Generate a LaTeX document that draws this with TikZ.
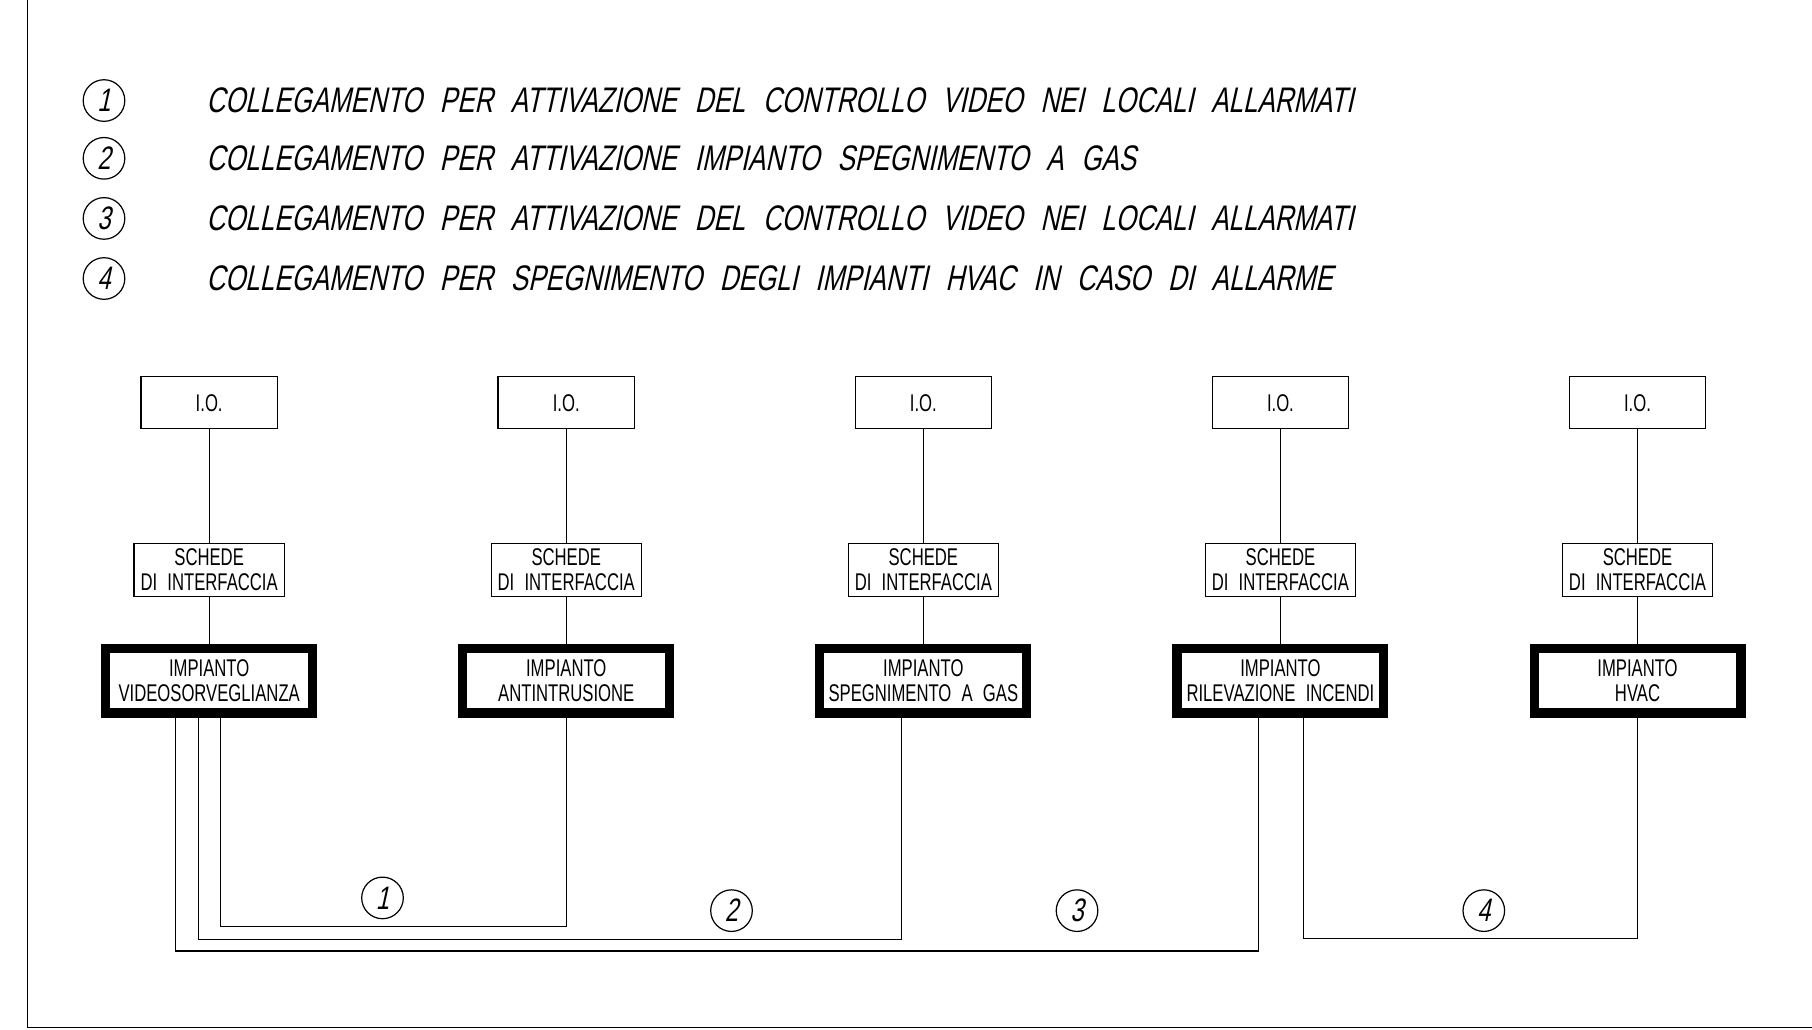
\documentclass[tikz,border=0pt]{standalone}
\usepackage{fontspec}
\newfontfamily\cadfont[FakeStretch=0.69,WordSpace=2.2]{Liberation Sans}
\newfontfamily\cadslant[FakeStretch=0.73,FakeSlant=0.22,WordSpace=2.45]{Liberation Sans}

\begin{document}
\begin{tikzpicture}[x=0.2mm,y=-0.2mm,line width=0.6pt]
  \tikzstyle{IOStyle}=[draw,minimum width=23.6mm,minimum height=9mm,inner sep=0pt,
    font=\cadfont\fontsize{11.9}{12.5}\selectfont]
  \tikzstyle{SchedaStyle}=[draw,minimum width=26mm,minimum height=9.2mm,inner sep=0pt,
    align=center,font=\cadfont\fontsize{11.9}{12.5}\selectfont]
  \tikzstyle{ImpiantoStyle}=[draw,line width=4.5pt,minimum width=35.8mm,minimum height=11.2mm,
    inner sep=0pt,align=center,font=\cadfont\fontsize{11.9}{12.5}\selectfont]
  \tikzstyle{NumStyle}=[draw,circle,minimum size=7.2mm,inner sep=0pt,
    font=\cadslant\fontsize{16}{16}\selectfont]
  \tikzstyle{LegendStyle}=[anchor=west,inner sep=0pt,
    font=\cadslant\fontsize{17.5}{18}\selectfont]
  \useasboundingbox (0,0) rectangle (1568,891);
  \draw (24,0) -- (24,889) -- (1568,889);

  \node[NumStyle] (L1) at (90,87) {1};
  \node[NumStyle] (L2) at (90,137) {2};
  \node[NumStyle] (L3) at (90,189) {3};
  \node[NumStyle] (L4) at (90,241) {4};
  \node[LegendStyle] (T1) at (178,87) {COLLEGAMENTO PER ATTIVAZIONE DEL CONTROLLO VIDEO NEI LOCALI ALLARMATI};
  \node[LegendStyle] (T2) at (178,137) {COLLEGAMENTO PER ATTIVAZIONE IMPIANTO SPEGNIMENTO A GAS};
  \node[LegendStyle] (T3) at (178,189) {COLLEGAMENTO PER ATTIVAZIONE DEL CONTROLLO VIDEO NEI LOCALI ALLARMATI};
  \node[LegendStyle] (T4) at (178,241) {COLLEGAMENTO PER SPEGNIMENTO DEGLI IMPIANTI HVAC IN CASO DI ALLARME};

  \node[ImpiantoStyle] (IMP1) at (181,589) {IMPIANTO\\VIDEOSORVEGLIANZA};
  \node[ImpiantoStyle] (IMP2) at (490,589) {IMPIANTO\\ANTINTRUSIONE};
  \node[ImpiantoStyle] (IMP3) at (799,589) {IMPIANTO\\SPEGNIMENTO A GAS};
  \node[ImpiantoStyle] (IMP4) at (1108,589) {IMPIANTO\\RILEVAZIONE INCENDI};
  \node[ImpiantoStyle] (IMP5) at (1417,589) {IMPIANTO\\HVAC};

  \foreach \i/\x in {1/181,2/490,3/799,4/1108,5/1417} {
    \node[IOStyle] (IO\i) at (\x,348.5) {I.O.};
    \node[SchedaStyle] (SK\i) at (\x,493) {SCHEDE\\DI INTERFACCIA};
    \draw (IO\i) -- (SK\i) -- (IMP\i);
  }

  \draw ([xshift=2mm]IMP1.south) -- ++(0,181) -| (IMP2.south);
  \draw ([xshift=-1.8mm]IMP1.south) -- ++(0,192) -| ([xshift=-3.8mm]IMP3.south);
  \draw ([xshift=-5.8mm]IMP1.south) -- ++(0,202) -| ([xshift=-3.8mm]IMP4.south);
  \draw ([xshift=4mm]IMP4.south) -- ++(0,191) -| (IMP5.south);

  \node[NumStyle] (N1) at (331,777) {1};
  \node[NumStyle] (N2) at (633,788) {2};
  \node[NumStyle] (N3) at (932,788) {3};
  \node[NumStyle] (N4) at (1284,788) {4};
\end{tikzpicture}
\end{document}
